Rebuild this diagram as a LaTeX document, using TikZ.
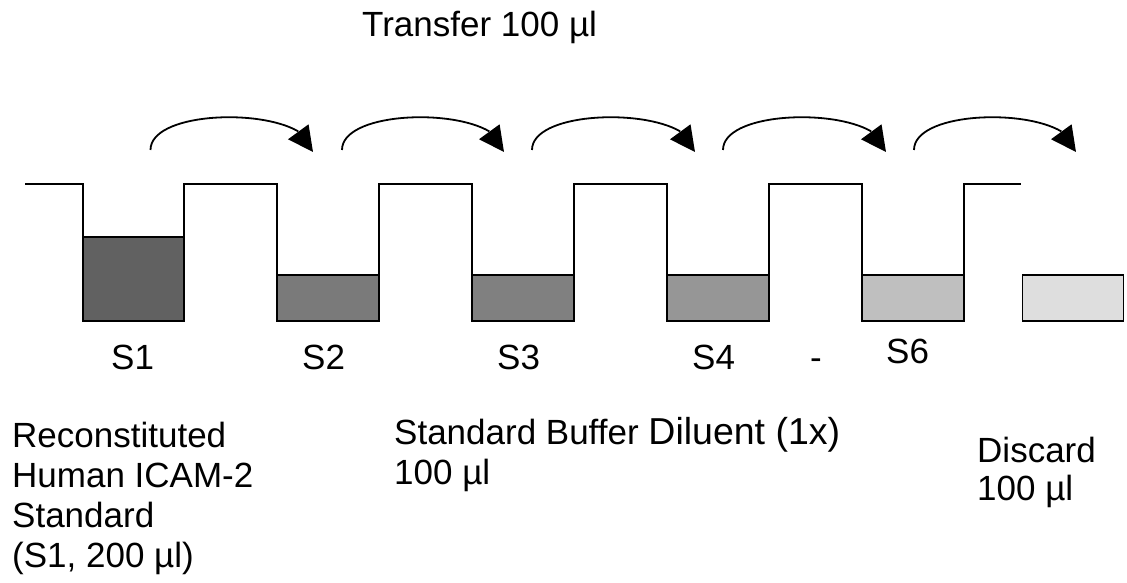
\documentclass[tikz,border=0pt]{standalone}
\usepackage{fontspec}
\setmainfont{Liberation Sans}
\usetikzlibrary{arrows.meta,bending}
\begin{document}
\begin{tikzpicture}[x=1pt,y=-1pt,
  lw/.style={line width=1.8pt},
  fillbox/.style={draw,lw,rectangle,inner sep=0pt,minimum width=101pt},
  lbl/.style={inner sep=0pt,anchor=base west,font=\fontsize{35}{40}\selectfont},
  xfer/.style={lw,-{Triangle[length=25pt,width=25pt,flex]}}]
\useasboundingbox (0,0) rectangle (1127,583);
% fills
\node[fillbox,fill=black!62,minimum height=84pt] (w1) at (133.5,279) {};
\node[fillbox,fill=black!52,minimum height=46pt] (w2) at (328,298) {};
\node[fillbox,fill=black!50,minimum height=46pt] (w3) at (523,298) {};
\node[fillbox,fill=black!41,minimum height=46pt] (w4) at (718,298) {};
\node[fillbox,fill=black!25,minimum height=46pt] (w5) at (913,298) {};
\node[fillbox,fill=black!13,minimum height=46pt] (w6) at (1073,298) {};
% plate profile
\draw[lw] (25,184) -- (83,184) -- (83,321) -- (184,321) -- (184,184)
  -- (277,184) -- (277,321) -- (379,321) -- (379,184)
  -- (472,184) -- (472,321) -- (574,321) -- (574,184)
  -- (667,184) -- (667,321) -- (769,321) -- (769,184)
  -- (862,184) -- (862,321) -- (964,321) -- (964,184) -- (1021,184);
% transfer arrows
\coordinate (a1) at (150.5,150); \coordinate (b1) at (313,152);
\coordinate (a2) at (342,150);   \coordinate (b2) at (504,152);
\coordinate (a3) at (532,150);   \coordinate (b3) at (695,152);
\coordinate (a4) at (723,150);   \coordinate (b4) at (886,152);
\coordinate (a5) at (914,150);   \coordinate (b5) at (1076,152);
\foreach \i in {1,...,5}{
  \draw[xfer] (a\i) .. controls +(0,-45) and +(0,-45) .. (b\i);
}
% labels
\node[lbl] (tr) at (362,37) {Transfer 100 µl};
\node[lbl] (s1) at (111,369) {S1};
\node[lbl] (s2) at (302,369) {S2};
\node[lbl] (s3) at (497,369) {S3};
\node[lbl] (s4) at (692,369) {S4};
\node[lbl] (dash) at (810,369) {-};
\node[lbl] (s6) at (886,363) {S6};
\node[lbl,align=left] (rec) at (12,567) {Reconstituted\\Human ICAM-2\\Standard\\(S1, 200 µl)};
\node[lbl,align=left] (buf) at (394,484) {Standard Buffer {\fontsize{37.5}{40}\selectfont Diluent (1x)}\\100 µl};
\node[lbl,align=left,font=\fontsize{35}{38}\selectfont] (dis) at (977,500) {Discard\\100 µl};
\end{tikzpicture}
\end{document}
